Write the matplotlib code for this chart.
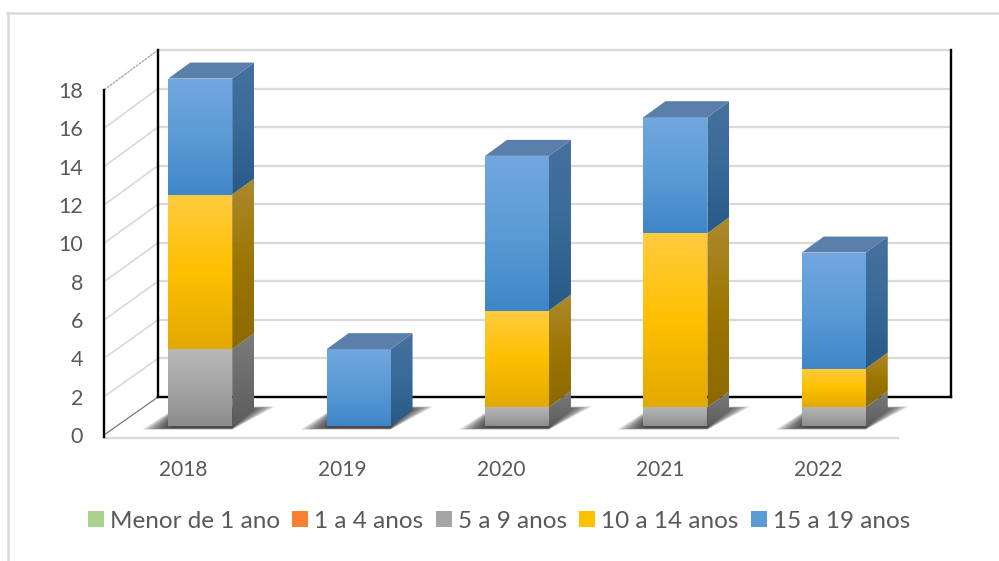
''' stacked columns with a drawn 3d look '''
import numpy as np
import matplotlib
matplotlib.use('Agg')
import matplotlib.pyplot as plt
from matplotlib.colors import LinearSegmentedColormap
from matplotlib.lines import Line2D
from matplotlib.patches import Patch, Polygon
from matplotlib.transforms import IdentityTransform

years = ['2018', '2019', '2020', '2021', '2022']
menor_1 = [0, 0, 0, 0, 0]
de_1_a_4 = [0, 0, 0, 0, 0]
de_5_a_9 = [4, 0, 1, 1, 1]
de_10_a_14 = [8, 0, 5, 9, 2]
de_15_a_19 = [6, 4, 8, 6, 6]
series_names = ['Menor de 1 ano', '1 a 4 anos', '5 a 9 anos',
                '10 a 14 anos', '15 a 19 anos']
y_ticks = list(range(0, 19, 2))

W, H = 999, 561
GRID = '#D9D9D9'
TEXT = '#595959'
plt.rcParams['font.family'] = ['Lato', 'DejaVu Sans']

# front / side / top shades per series
SHADES = {
    '5 a 9 anos': (['#B8B8B8', '#A5A5A5', '#8C8C8C'],
                   ['#7C7C7C', '#6C6C6C', '#5C5C5C'], '#808080'),
    '10 a 14 anos': (['#FFCB40', '#FFC000', '#E2A900'],
                     ['#AC8A30', '#9C7600', '#8C6800'], '#B08E20'),
    '15 a 19 anos': (['#72A7DF', '#5B9BD5', '#3F86C8'],
                     ['#46719E', '#386A98', '#285A88'], '#5A7FAA'),
}
LEGEND_COLORS = ['#A9D18E', '#F98030', '#A5A5A5', '#FFC000', '#5B9BD5']


def make_axes(fig, left, right, top, bottom):
    ''' axes placed by pixel edges '''
    ax = fig.add_axes([left / W, 1 - bottom / H, (right - left) / W,
                       (bottom - top) / H])
    ax.patch.set_visible(False)
    return ax


def gradient(ax, colors, x0, x1, y0, y1, clip):
    ''' vertical gradient clipped to a patch, first colour on top '''
    cmap = LinearSegmentedColormap.from_list('g', colors)
    img = np.linspace(0, 1, 128).reshape(-1, 1)
    im = ax.imshow(img, cmap=cmap, extent=(x0, x1, y0, y1), aspect='auto',
                   interpolation='bilinear', zorder=3, origin='upper')
    im.set_clip_path(clip)


def draw_walls(fig):
    ''' back wall, front axis and the lines joining them '''
    back = make_axes(fig, 158, 951, 50, 397)
    back.set_xlim(0, 1)
    back.set_ylim(0, 18)
    back.set_yticks(y_ticks)
    back.set_xticks([])
    back.tick_params(length=0, labelleft=False)
    back.grid(axis='y', color=GRID, lw=1.6, clip_on=False)
    back.set_axisbelow(True)
    back.spines['top'].set_visible(False)
    for side in ['left', 'right', 'bottom']:
        back.spines[side].set_linewidth(1.7)
        back.spines[side].set_color('black')

    front = make_axes(fig, 104, 898, 90, 435)
    front.set_xlim(-0.5, 4.5)
    front.set_ylim(0, 18)
    front.set_yticks(y_ticks)
    front.set_xticks(range(len(years)))
    front.set_xticklabels(years)
    front.tick_params(axis='y', length=0, pad=15, labelsize=15.5,
                      labelcolor=TEXT)
    front.tick_params(axis='x', length=0, pad=18, labelsize=15,
                      labelcolor=TEXT)
    for lab in front.get_yticklabels():
        lab.set_verticalalignment('center_baseline')
    for side in ['top', 'right', 'bottom']:
        front.spines[side].set_visible(False)
    front.spines['left'].set_linewidth(1.7)
    front.spines['left'].set_bounds(-0.12, 18)
    front.axhline(-0.15, color=GRID, lw=1.6, clip_on=False)

    for val in y_ticks:
        p0 = front.transData.transform((-0.5, val))
        p1 = back.transData.transform((0, val))
        color, lw = GRID, 1.2
        if val == 0:
            color, lw = '#777777', 0.9
        if val == 18:
            color, lw = '#AAAAAA', 1.0
        fig.add_artist(Line2D([p0[0], p1[0]], [p0[1], p1[1]], color=color,
                              lw=lw, transform=IdentityTransform(),
                              ls=(0, (2, 0.6)) if val == 18 else '-',
                              zorder=-1))


def draw_bars(fig):
    ''' bars, with side and top faces and a floor shadow '''
    # 1 unit = 19.33 px high, 1 category = 158.5 px wide
    sx, sy = 1 / 158.5, 1 / 19.33
    ax = make_axes(fig, 121, 913, 426.5 - 20 * 19.33, 426.5 + 2 * 19.33)
    ax.axis('off')
    half = 32 * sx
    dep_x, dep_y = 22 * sx, 16 * sy

    for i in range(len(years)):
        left, right = i - half, i + half
        # soft shadow, built outer to inner
        for k in range(14):
            ins = k * 2.2 * sx
            ax.add_patch(Polygon([(left - 26 * sx + ins, (-3 + k * 0.12) * sy),
                                  (right, (-3 + k * 0.12) * sy),
                                  (right + 43 * sx - ins, (20 - k * 0.2) * sy),
                                  (left + 10 * sx, (20 - k * 0.2) * sy)],
                                 closed=True, fc='#2A2A2A', ec='none',
                                 alpha=0.12, zorder=1))
        base = 0
        tops = [(name, vals) for name, vals in
                zip(series_names, [menor_1, de_1_a_4, de_5_a_9,
                                   de_10_a_14, de_15_a_19]) if vals[i] > 0]
        for name, vals in tops:
            top = base + vals[i]
            front_c, side_c, top_c = SHADES[name]
            face = Polygon([(left, base), (right, base), (right, top),
                            (left, top)], closed=True, fc='none', ec='none')
            ax.add_patch(face)
            gradient(ax, front_c, left, right, base, top, face)
            side = Polygon([(right, base), (right + dep_x, base + dep_y),
                            (right + dep_x, top + dep_y), (right, top)],
                           closed=True, fc='none', ec='none')
            ax.add_patch(side)
            gradient(ax, side_c, right, right + dep_x, base, top + dep_y, side)
            if name == tops[-1][0]:
                ax.add_patch(Polygon([(left, top), (right, top),
                                      (right + dep_x, top + dep_y),
                                      (left + dep_x, top + dep_y)],
                                     closed=True, fc=top_c, ec='none',
                                     zorder=3))
            base = top
    ax.set_xlim(-0.5, 4.5)
    ax.set_ylim(-2, 20)


def main():
    ''' entry point '''
    fig = plt.figure(figsize=(W / 100, H / 100), dpi=100)
    fig.add_artist(Line2D([8, 8], [0, H - 13], color=GRID, lw=1.8,
                          transform=IdentityTransform(), zorder=-2))
    fig.add_artist(Line2D([7, W], [H - 13, H - 13], color=GRID, lw=1.8,
                          transform=IdentityTransform(), zorder=-2))
    draw_walls(fig)
    draw_bars(fig)
    handles = [Patch(fc=c, ec='none') for c in LEGEND_COLORS]
    fig.legend(handles, series_names, loc='center', ncol=5,
               bbox_to_anchor=(499 / W, 1 - 521 / H), frameon=False,
               fontsize=17.5, labelcolor=TEXT, handlelength=0.66,
               handleheight=0.66, handletextpad=0.25, columnspacing=0.5,
               borderpad=0)
    fig.savefig('out.png', dpi=100)


if __name__ == '__main__':
    main()
